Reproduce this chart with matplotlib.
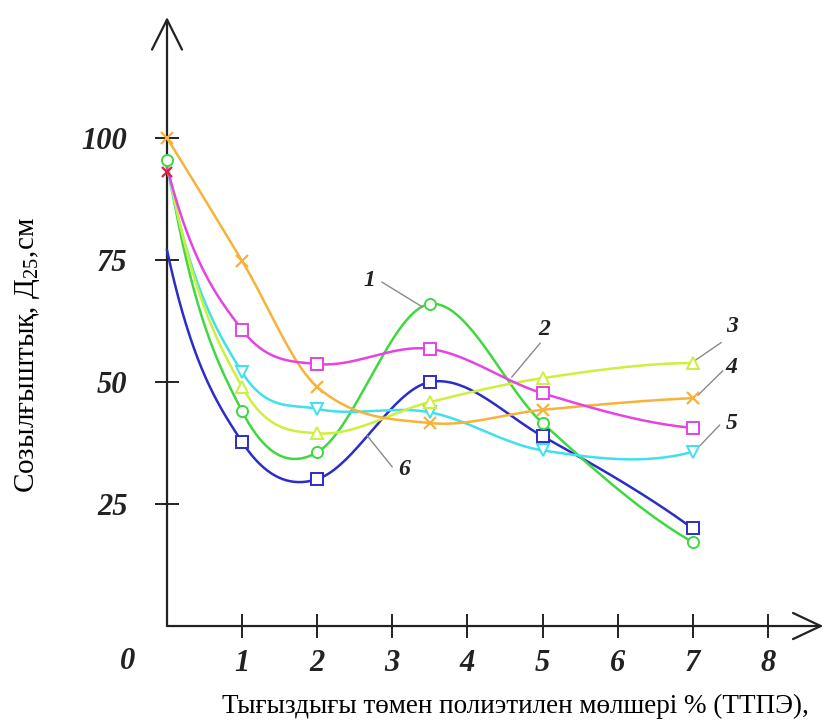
import matplotlib.pyplot as plt
import numpy as np

plt.rcParams['font.family'] = ['Liberation Serif', 'DejaVu Serif']
plt.rcParams['mathtext.fontset'] = 'custom'
plt.rcParams['mathtext.rm'] = 'Liberation Serif'

# ТТПЭ мөлшері, %
x = [0, 1, 2, 3.5, 5, 7]
# Созылғыштық, Д25, см
curve1 = [95.5, 44, 35.6, 66, 41.6, 17.2]     # green, circles
curve2 = [94, 60.7, 53.7, 56.8, 47.7, 40.6]   # magenta, squares
curve3 = [95, 49, 39.5, 45.9, 50.8, 53.9]     # yellow-green, triangles up
curve4 = [100, 74.8, 49, 41.6, 44.3, 46.7]    # orange, crosses
curve5 = [94, 52, 44.5, 43.8, 36, 35.7]       # cyan, triangles down
curve6 = [77, 37.7, 30.1, 50, 38.9, 20]       # blue, squares
start_x = [0]
start_y = [93]                                # red cross on the y axis

xticks = [1, 2, 3, 4, 5, 6, 7, 8]
yticks = [25, 50, 75, 100]


def smooth(xs, ys, n=40):
    # cubic hermite through the points, drawn curves in the source are smooth
    xs = np.asarray(xs, float)
    ys = np.asarray(ys, float)
    d = np.diff(ys) / np.diff(xs)
    m = np.empty_like(ys)
    m[1:-1] = (ys[2:] - ys[:-2]) / (xs[2:] - xs[:-2])
    m[0] = 3 * d[0] - 2 * m[1]
    m[-1] = 3 * d[-1] - 2 * m[-2]
    outx, outy = [], []
    for i in range(len(xs) - 1):
        h = xs[i + 1] - xs[i]
        t = np.linspace(0, 1, n)
        h00 = 2 * t**3 - 3 * t**2 + 1
        h10 = t**3 - 2 * t**2 + t
        h01 = -2 * t**3 + 3 * t**2
        h11 = t**3 - t**2
        outx.append(xs[i] + t * h)
        outy.append(h00 * ys[i] + h10 * h * m[i] + h01 * ys[i + 1] + h11 * h * m[i + 1])
    return np.concatenate(outx), np.concatenate(outy)


fig = plt.figure(figsize=(8.29, 7.2), dpi=100)
ax = fig.add_axes([0, 0, 1, 1])
ax.set_xlim(-2.224, 8.815)
ax.set_ylim(-19.26, 128.3)

series = [
    (curve6, '#2c2cc8', 's', False),
    (curve1, '#40d840', 'o', True),
    (curve5, '#40e0ec', 'v', False),
    (curve3, '#cdf03c', '^', False),
    (curve4, '#f8b23a', 'x', True),
    (curve2, '#e444e4', 's', False),
]
for ys, col, mk, first in series:
    sx, sy = smooth(x, ys)
    ax.plot(sx, sy, color=col, lw=1.8, zorder=3)
    px = x if first else x[1:]
    py = ys if first else ys[1:]
    if mk == 'x':
        ax.plot(px, py, ls='none', marker=mk, ms=9, mew=1.6, color=col, zorder=4)
    else:
        ax.plot(px, py, ls='none', marker=mk, ms=8, mew=1.4, mec=col, mfc='white', zorder=4)
ax.plot(start_x, start_y, ls='none', marker='x', ms=7, mew=1.6, color='#e02040', zorder=5)

# axes drawn as arrows
for s in ax.spines.values():
    s.set_visible(False)
ax.spines['left'].set_position(('data', 0))
ax.spines['bottom'].set_position(('data', 0))
ax.annotate('', xy=(0, 124.8), xytext=(0, 0),
            arrowprops=dict(arrowstyle='->,head_length=2.16,head_width=1.08', mutation_scale=10,
                            lw=1.6, color='#222222', shrinkA=0, shrinkB=0), zorder=2)
ax.annotate('', xy=(8.74, 0), xytext=(0, 0),
            arrowprops=dict(arrowstyle='->,head_length=2.0,head_width=0.94', mutation_scale=10,
                            lw=1.6, color='#222222', shrinkA=0, shrinkB=0), zorder=2)

tick_font = dict(fontsize=22, style='italic', weight='bold')
ax.set_xticks(xticks)
ax.set_xticklabels([str(v) for v in xticks], **tick_font)
ax.set_yticks(yticks)
ax.set_yticklabels([str(v) for v in yticks], **tick_font)
ax.tick_params(axis='both', direction='inout', length=17, width=1.4, color='#222222',
               labelcolor='#222222')
ax.tick_params(axis='x', pad=8)
ax.tick_params(axis='y', pad=20)
ax.text(-0.52, -7.2, '0', color='#222222', ha='center', va='center', **tick_font)

# curve numbers with leader lines
notes = [
    ('1', (2.70, 70.9), (2.86, 70.5), (3.40, 65.4)),
    ('2', (5.02, 60.7), (4.97, 58.0), (4.59, 51.0)),
    ('3', (7.52, 61.3), (7.38, 58.1), (7.02, 54.3)),
    ('4', (7.51, 52.9), (7.40, 52.3), (7.07, 47.3)),
    ('5', (7.52, 41.6), (7.36, 41.2), (7.08, 36.7)),
    ('6', (3.16, 32.0), (3.00, 32.6), (2.66, 39.1)),
]
for lab, tpos, a, b in notes:
    ax.text(tpos[0], tpos[1], lab, fontsize=17, style='italic', weight='bold',
            color='#222222', ha='center', va='center')
    ax.annotate('', xy=b, xytext=a,
                arrowprops=dict(arrowstyle='-', color='#8a8a8a', lw=1.0, shrinkA=0, shrinkB=0))

fig.text(515 / 829, 1 - 706 / 720, 'Тығыздығы төмен полиэтилен мөлшері % (ТТПЭ),',
         fontsize=19.5, ha='center', va='center')
fig.text(28 / 829, 1 - 355 / 720, 'Созылғыштық, Д$_{25}$,см', fontsize=21,
         rotation=90, ha='center', va='center')

fig.savefig('out.png', dpi=100)
